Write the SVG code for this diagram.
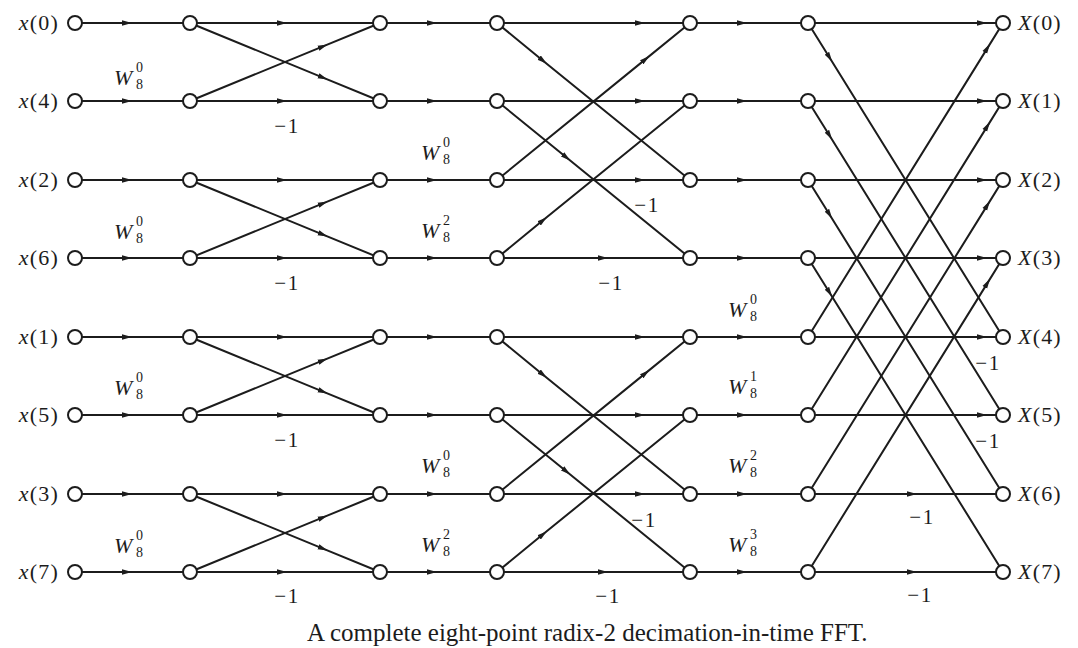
<svg xmlns="http://www.w3.org/2000/svg" width="1078" height="648" viewBox="0 0 1078 648">
<style>
.e{fill:none;stroke:#1c1c1c;stroke-width:2;marker-mid:url(#a)}
.n{fill:#fff;stroke:#1c1c1c;stroke-width:2}
.t{font-family:"Liberation Serif","Times New Roman",serif;fill:#1c1c1c}
.io{font-size:22px;letter-spacing:1.2px}
.w{font-size:22px;font-style:italic}
.s{font-size:14px}
.m{font-size:21px;text-anchor:middle;letter-spacing:1.5px}
.cap{font-size:25px}
</style>
<defs>
<marker id="a" viewBox="0 0 10 6" refX="5" refY="3" markerWidth="10" markerHeight="6" markerUnits="userSpaceOnUse" orient="auto"><path d="M0 0.3 L10 3 L0 5.7 z" fill="#1c1c1c"/></marker>
</defs>
<rect width="1078" height="648" fill="#fff"/>
<g id="connectors">
<path class="e" d="M75 23 L127 23 L190 23"/>
<path class="e" d="M75 101 L127 101 L190 101"/>
<path class="e" d="M75 180 L127 180 L190 180"/>
<path class="e" d="M75 258 L127 258 L190 258"/>
<path class="e" d="M75 337 L127 337 L190 337"/>
<path class="e" d="M75 415 L127 415 L190 415"/>
<path class="e" d="M75 494 L127 494 L190 494"/>
<path class="e" d="M75 572 L127 572 L190 572"/>
<path class="e" d="M190 23 L282 23 L380 23"/>
<path class="e" d="M190 101 L282 101 L380 101"/>
<path class="e" d="M190 180 L282 180 L380 180"/>
<path class="e" d="M190 258 L282 258 L380 258"/>
<path class="e" d="M190 337 L282 337 L380 337"/>
<path class="e" d="M190 415 L282 415 L380 415"/>
<path class="e" d="M190 494 L282 494 L380 494"/>
<path class="e" d="M190 572 L282 572 L380 572"/>
<path class="e" d="M190 23 L323 77.6 L380 101"/>
<path class="e" d="M190 101 L323 46.4 L380 23"/>
<path class="e" d="M190 180 L323 234.6 L380 258"/>
<path class="e" d="M190 258 L323 203.4 L380 180"/>
<path class="e" d="M190 337 L323 391.6 L380 415"/>
<path class="e" d="M190 415 L323 360.4 L380 337"/>
<path class="e" d="M190 494 L323 548.6 L380 572"/>
<path class="e" d="M190 572 L323 517.4 L380 494"/>
<path class="e" d="M380 23 L432 23 L497 23"/>
<path class="e" d="M380 101 L432 101 L497 101"/>
<path class="e" d="M380 180 L432 180 L497 180"/>
<path class="e" d="M380 258 L432 258 L497 258"/>
<path class="e" d="M380 337 L432 337 L497 337"/>
<path class="e" d="M380 415 L432 415 L497 415"/>
<path class="e" d="M380 494 L432 494 L497 494"/>
<path class="e" d="M380 572 L432 572 L497 572"/>
<path class="e" d="M497 23 L640 23 L690 23"/>
<path class="e" d="M497 101 L640 101 L690 101"/>
<path class="e" d="M497 180 L640 180 L690 180"/>
<path class="e" d="M497 258 L603 258 L690 258"/>
<path class="e" d="M497 337 L640 337 L690 337"/>
<path class="e" d="M497 415 L640 415 L690 415"/>
<path class="e" d="M497 494 L640 494 L690 494"/>
<path class="e" d="M497 572 L603 572 L690 572"/>
<path class="e" d="M497 23 L543 60.7 L690 180"/>
<path class="e" d="M497 101 L566.5 157.5 L690 258"/>
<path class="e" d="M497 180 L645.6 59.1 L690 23"/>
<path class="e" d="M497 258 L543 220.3 L690 101"/>
<path class="e" d="M497 337 L543 374.7 L690 494"/>
<path class="e" d="M497 415 L566.5 471.5 L690 572"/>
<path class="e" d="M497 494 L645.6 373.1 L690 337"/>
<path class="e" d="M497 572 L543 534.3 L690 415"/>
<path class="e" d="M690 23 L742 23 L808 23"/>
<path class="e" d="M690 101 L742 101 L808 101"/>
<path class="e" d="M690 180 L742 180 L808 180"/>
<path class="e" d="M690 258 L742 258 L808 258"/>
<path class="e" d="M690 337 L742 337 L808 337"/>
<path class="e" d="M690 415 L742 415 L808 415"/>
<path class="e" d="M690 494 L742 494 L808 494"/>
<path class="e" d="M690 572 L742 572 L808 572"/>
<path class="e" d="M808 23 L982 23 L1003 23"/>
<path class="e" d="M808 101 L982 101 L1003 101"/>
<path class="e" d="M808 180 L982 180 L1003 180"/>
<path class="e" d="M808 258 L982 258 L1003 258"/>
<path class="e" d="M808 337 L982 337 L1003 337"/>
<path class="e" d="M808 415 L982 415 L1003 415"/>
<path class="e" d="M808 494 L912 494 L1003 494"/>
<path class="e" d="M808 572 L912 572 L1003 572"/>
<path class="e" d="M808 23 L829.5 57.5 L1003 337"/>
<path class="e" d="M808 101 L829.5 135.5 L1003 415"/>
<path class="e" d="M808 180 L829.5 214.5 L1003 494"/>
<path class="e" d="M808 258 L829.5 292.5 L1003 572"/>
<path class="e" d="M808 337 L987.4 48.1 L1003 23"/>
<path class="e" d="M808 415 L987.4 126.1 L1003 101"/>
<path class="e" d="M808 494 L987.4 205.1 L1003 180"/>
<path class="e" d="M808 572 L987.4 283.1 L1003 258"/>
</g>
<g id="in0"><circle class="n" cx="75" cy="23" r="7"/><text class="t io" x="59" y="30" text-anchor="end"><tspan font-style="italic">x</tspan>(0)</text></g>
<g id="in4"><circle class="n" cx="75" cy="101" r="7"/><text class="t io" x="59" y="108" text-anchor="end"><tspan font-style="italic">x</tspan>(4)</text></g>
<g id="in2"><circle class="n" cx="75" cy="180" r="7"/><text class="t io" x="59" y="187" text-anchor="end"><tspan font-style="italic">x</tspan>(2)</text></g>
<g id="in6"><circle class="n" cx="75" cy="258" r="7"/><text class="t io" x="59" y="265" text-anchor="end"><tspan font-style="italic">x</tspan>(6)</text></g>
<g id="in1"><circle class="n" cx="75" cy="337" r="7"/><text class="t io" x="59" y="344" text-anchor="end"><tspan font-style="italic">x</tspan>(1)</text></g>
<g id="in5"><circle class="n" cx="75" cy="415" r="7"/><text class="t io" x="59" y="422" text-anchor="end"><tspan font-style="italic">x</tspan>(5)</text></g>
<g id="in3"><circle class="n" cx="75" cy="494" r="7"/><text class="t io" x="59" y="501" text-anchor="end"><tspan font-style="italic">x</tspan>(3)</text></g>
<g id="in7"><circle class="n" cx="75" cy="572" r="7"/><text class="t io" x="59" y="579" text-anchor="end"><tspan font-style="italic">x</tspan>(7)</text></g>
<g id="s1"><circle class="n" cx="190" cy="23" r="7"/><circle class="n" cx="190" cy="101" r="7"/><circle class="n" cx="190" cy="180" r="7"/><circle class="n" cx="190" cy="258" r="7"/><circle class="n" cx="190" cy="337" r="7"/><circle class="n" cx="190" cy="415" r="7"/><circle class="n" cx="190" cy="494" r="7"/><circle class="n" cx="190" cy="572" r="7"/></g>
<g id="s2"><circle class="n" cx="380" cy="23" r="7"/><circle class="n" cx="380" cy="101" r="7"/><circle class="n" cx="380" cy="180" r="7"/><circle class="n" cx="380" cy="258" r="7"/><circle class="n" cx="380" cy="337" r="7"/><circle class="n" cx="380" cy="415" r="7"/><circle class="n" cx="380" cy="494" r="7"/><circle class="n" cx="380" cy="572" r="7"/></g>
<g id="s3"><circle class="n" cx="497" cy="23" r="7"/><circle class="n" cx="497" cy="101" r="7"/><circle class="n" cx="497" cy="180" r="7"/><circle class="n" cx="497" cy="258" r="7"/><circle class="n" cx="497" cy="337" r="7"/><circle class="n" cx="497" cy="415" r="7"/><circle class="n" cx="497" cy="494" r="7"/><circle class="n" cx="497" cy="572" r="7"/></g>
<g id="s4"><circle class="n" cx="690" cy="23" r="7"/><circle class="n" cx="690" cy="101" r="7"/><circle class="n" cx="690" cy="180" r="7"/><circle class="n" cx="690" cy="258" r="7"/><circle class="n" cx="690" cy="337" r="7"/><circle class="n" cx="690" cy="415" r="7"/><circle class="n" cx="690" cy="494" r="7"/><circle class="n" cx="690" cy="572" r="7"/></g>
<g id="s5"><circle class="n" cx="808" cy="23" r="7"/><circle class="n" cx="808" cy="101" r="7"/><circle class="n" cx="808" cy="180" r="7"/><circle class="n" cx="808" cy="258" r="7"/><circle class="n" cx="808" cy="337" r="7"/><circle class="n" cx="808" cy="415" r="7"/><circle class="n" cx="808" cy="494" r="7"/><circle class="n" cx="808" cy="572" r="7"/></g>
<g id="out0"><circle class="n" cx="1003" cy="23" r="7"/><text class="t io" x="1018" y="30"><tspan font-style="italic">X</tspan>(0)</text></g>
<g id="out1"><circle class="n" cx="1003" cy="101" r="7"/><text class="t io" x="1018" y="108"><tspan font-style="italic">X</tspan>(1)</text></g>
<g id="out2"><circle class="n" cx="1003" cy="180" r="7"/><text class="t io" x="1018" y="187"><tspan font-style="italic">X</tspan>(2)</text></g>
<g id="out3"><circle class="n" cx="1003" cy="258" r="7"/><text class="t io" x="1018" y="265"><tspan font-style="italic">X</tspan>(3)</text></g>
<g id="out4"><circle class="n" cx="1003" cy="337" r="7"/><text class="t io" x="1018" y="344"><tspan font-style="italic">X</tspan>(4)</text></g>
<g id="out5"><circle class="n" cx="1003" cy="415" r="7"/><text class="t io" x="1018" y="422"><tspan font-style="italic">X</tspan>(5)</text></g>
<g id="out6"><circle class="n" cx="1003" cy="494" r="7"/><text class="t io" x="1018" y="501"><tspan font-style="italic">X</tspan>(6)</text></g>
<g id="out7"><circle class="n" cx="1003" cy="572" r="7"/><text class="t io" x="1018" y="579"><tspan font-style="italic">X</tspan>(7)</text></g>
<g id="labels" class="t">
<text class="w" x="114" y="85">W</text><text class="s" x="136" y="89">8</text><text class="s" x="136" y="72">0</text>
<text class="w" x="114" y="239">W</text><text class="s" x="136" y="243">8</text><text class="s" x="136" y="226">0</text>
<text class="w" x="114" y="395">W</text><text class="s" x="136" y="399">8</text><text class="s" x="136" y="382">0</text>
<text class="w" x="114" y="553">W</text><text class="s" x="136" y="557">8</text><text class="s" x="136" y="540">0</text>
<text class="w" x="421" y="160">W</text><text class="s" x="443" y="164">8</text><text class="s" x="443" y="147">0</text>
<text class="w" x="421" y="238">W</text><text class="s" x="443" y="242">8</text><text class="s" x="443" y="225">2</text>
<text class="w" x="421" y="473">W</text><text class="s" x="443" y="477">8</text><text class="s" x="443" y="460">0</text>
<text class="w" x="421" y="552">W</text><text class="s" x="443" y="556">8</text><text class="s" x="443" y="539">2</text>
<text class="w" x="728" y="317">W</text><text class="s" x="750" y="321">8</text><text class="s" x="750" y="304">0</text>
<text class="w" x="728" y="394">W</text><text class="s" x="750" y="398">8</text><text class="s" x="750" y="381">1</text>
<text class="w" x="728" y="473">W</text><text class="s" x="750" y="477">8</text><text class="s" x="750" y="460">2</text>
<text class="w" x="728" y="552">W</text><text class="s" x="750" y="556">8</text><text class="s" x="750" y="539">3</text>
<text class="m" x="287" y="133">−1</text>
<text class="m" x="287" y="290">−1</text>
<text class="m" x="287" y="447">−1</text>
<text class="m" x="287" y="603">−1</text>
<text class="m" x="647" y="212">−1</text>
<text class="m" x="611" y="290">−1</text>
<text class="m" x="644" y="527">−1</text>
<text class="m" x="608" y="603">−1</text>
<text class="m" x="988" y="370">−1</text>
<text class="m" x="988" y="448">−1</text>
<text class="m" x="922" y="524">−1</text>
<text class="m" x="920" y="602">−1</text>
<text class="cap" x="307" y="641">A complete eight-point radix-2 decimation-in-time FFT.</text>
</g>
</svg>
